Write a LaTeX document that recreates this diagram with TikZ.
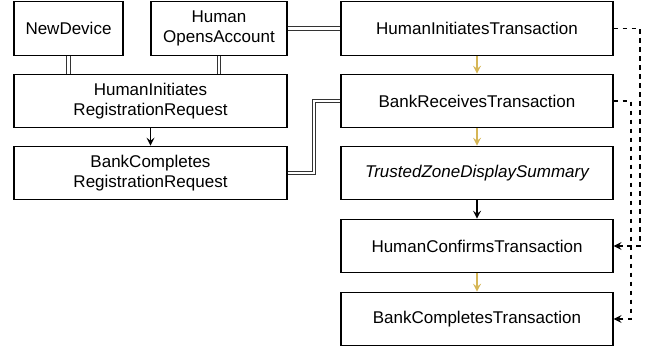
\documentclass[tikz,border=0pt]{standalone}
\usepackage{fontspec}
\setmainfont{Liberation Sans}
\usetikzlibrary{arrows.meta}
\definecolor{gold}{HTML}{D6B656}
\tikzset{
  box/.style={draw=black, line width=1.1pt, minimum height=53.5pt, inner sep=0pt, align=center,
    font=\fontsize{17}{19.5}\selectfont},
  link/.style={double, double distance=2.6pt, line width=0.9pt, draw=black!80},
  flow/.style={line width=1.1pt, -{Stealth[length=8pt,width=8pt,inset=3pt]}},
  dep/.style={line width=1.1pt, dash pattern=on 4.5pt off 4.5pt, -{Stealth[length=8pt,width=8pt,inset=3pt]}}
}
\begin{document}
\begin{tikzpicture}[x=1pt,y=-1pt]
\useasboundingbox (0,0) rectangle (656,351);
\node[box, minimum width=109pt] (nd) at (68.5,28.5) {NewDevice};
\node[box, minimum width=136pt] (hoa) at (219,28.5) {Human\\OpensAccount};
\node[box, minimum width=273pt] (hirr) at (150.5,101) {HumanInitiates\\RegistrationRequest};
\node[box, minimum width=273pt] (bcrr) at (150.5,173) {BankCompletes\\RegistrationRequest};
\node[box, minimum width=272pt] (hit) at (477,28.5) {HumanInitiatesTransaction};
\node[box, minimum width=272pt] (brt) at (477,101) {BankReceivesTransaction};
\node[box, minimum width=272pt] (tzds) at (477,173) {\itshape TrustedZoneDisplaySummary};
\node[box, minimum width=272pt] (hct) at (477,246) {HumanConfirmsTransaction};
\node[box, minimum width=272pt] (bct) at (477,319) {BankCompletesTransaction};
% links
\draw[link] (nd.south) -- (nd.south |- hirr.north);
\draw[link] (hoa.south) -- (hoa.south |- hirr.north);
\draw[link] (hoa.east) -- (hit.west);
\draw[link] (bcrr.east) -- (314,173) -- (314,101) -- (brt.west);
% flows
\draw[flow] (hirr.south) -- (bcrr.north);
\draw[flow, gold] (hit.south) -- (brt.north);
\draw[flow, gold] (brt.south) -- (tzds.north);
\draw[flow] (tzds.south) -- (hct.north);
\draw[flow, gold] (hct.south) -- (bct.north);
% dashed
\coordinate (d1a) at (640,28.5);
\coordinate (d1b) at (640,246);
\coordinate (d2a) at (631,101);
\coordinate (d2b) at (631,319);
\draw[dep] (hit.east) -- (d1a) -- (d1b) -- (hct.east);
\draw[dep] (brt.east) -- (d2a) -- (d2b) -- (bct.east);
\end{tikzpicture}
\end{document}
